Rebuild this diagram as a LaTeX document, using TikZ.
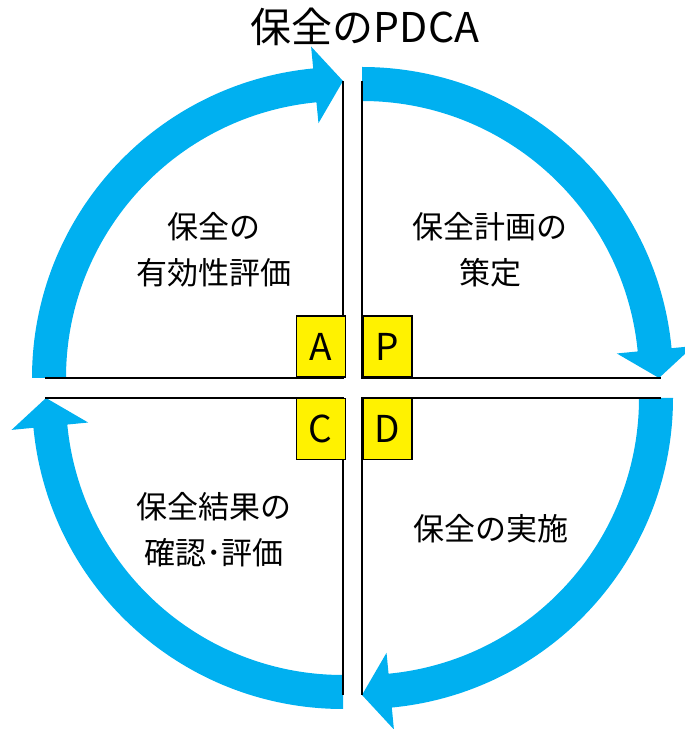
\documentclass[tikz,border=0pt]{standalone}
\usepackage{fontspec}
\setmainfont{Noto Sans CJK JP}
\definecolor{pdcablue}{HTML}{00B0F0}
\begin{document}
\begin{tikzpicture}[x=1pt, y=1pt,
  quad/.style = {line width=2pt},
  arrowband/.style = {fill=pdcablue},
  letterbox/.style = {draw, line width=1.5pt, fill=yellow, minimum width=49pt, minimum height=61pt, inner sep=0pt, font=\fontsize{37}{37}\selectfont},
  stagetext/.style = {align=center, font=\fontsize{31}{46}\selectfont}]

	\useasboundingbox (0,0) rectangle (685,729);

	\coordinate (cA) at (343,351);
	\coordinate (cP) at (362,351);
	\coordinate (cD) at (362,331);
	\coordinate (cC) at (343,331);

	\foreach \q/\rot in {A/0, P/-90, D/-180, C/-270}
		\fill[arrowband, shift={(c\q)}, rotate=\rot]
			(180:311) arc[start angle=180, end angle=95.5, radius=311]
			-- (95.5:333) -- (90:297) -- (95.5:256) -- (95.5:277)
			arc[start angle=95.5, end angle=180, radius=277] -- cycle;

	\draw[quad] (343,648) -- (cA) -- (45,351);
	\draw[quad] (362,648) -- (cP) -- (661,351);
	\draw[quad] (661,331) -- (cD) -- (362,34);
	\draw[quad] (343,34) -- (cC) -- (45,331);

	\node[letterbox, anchor=south east] (A) at (346,351) {A};
	\node[letterbox, anchor=south west] (P) at (362,351) {P};
	\node[letterbox, anchor=north west] (D) at (362,331) {D};
	\node[letterbox, anchor=north east] (C) at (346,331) {C};

	\node[stagetext] (act) at (214,479) {保全の\\有効性評価};
	\node[stagetext] (plan) at (490,479) {保全計画の\\策定};
	\node[stagetext] (do) at (491,200) {保全の実施};
	\node[stagetext] (check) at (214,199) {保全結果の\\確認･評価};
	\node[font=\fontsize{41}{41}\selectfont] (title) at (365,702) {保全のPDCA};
\end{tikzpicture}
\end{document}
